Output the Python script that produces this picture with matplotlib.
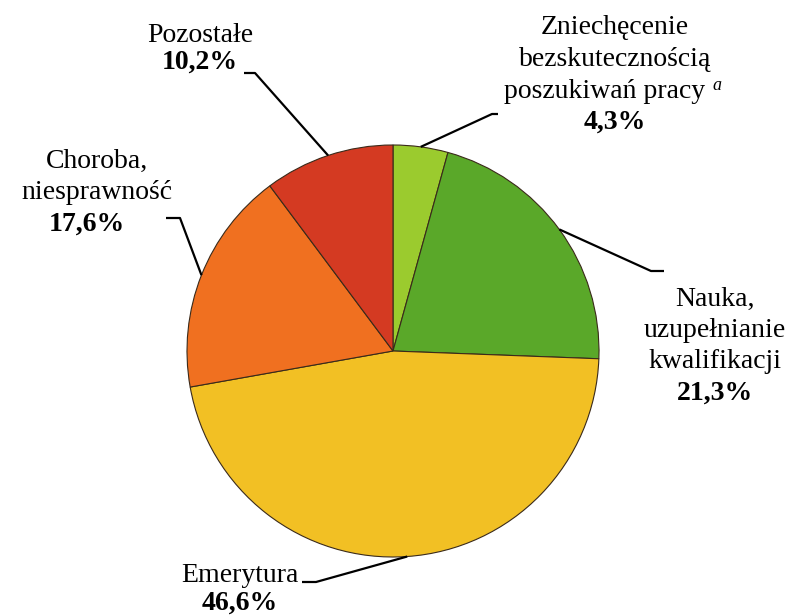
import numpy as np
import matplotlib
matplotlib.use("Agg")
import matplotlib.pyplot as plt

categories = ["Zniechęcenie\nbezskutecznością\nposzukiwań pracy", "Nauka,\nuzupełnianie\nkwalifikacji",
              "Emerytura", "Choroba,\nniesprawność", "Pozostałe"]
values = [4.3, 21.3, 46.6, 17.6, 10.2]
colors = ["#9BCB2E", "#5AA829", "#F2C024", "#F07020", "#D43A22"]

# layout (pixel coordinates, y measured from top)
W, H = 787, 616
cx, cy, R = 393, 351, 206
layout = [
    dict(tx=615, ty=28, elbow=(492, 114), end=498),
    dict(tx=715, ty=299, elbow=(651, 271), end=664),
    dict(tx=240, ty=576, elbow=(316, 582), end=302),
    dict(tx=97, ty=161, elbow=(180, 218), end=166),
    dict(tx=200, ty=35, elbow=(255, 73), end=244),
]

plt.rcParams['font.family'] = ['Liberation Serif', 'DejaVu Serif']
fig = plt.figure(figsize=(W / 100, H / 100), dpi=100)
ax = fig.add_axes([0, 0, 1, 1])

def fy(y):
    return H - y

wedges, _ = ax.pie(values, colors=colors, startangle=90, counterclock=False,
                   center=(cx, fy(cy)), radius=R, frame=True,
                   wedgeprops=dict(edgecolor="#3a2a1a", linewidth=0.8))
ax.set_xlim(0, W)
ax.set_ylim(0, H)
ax.set_aspect('equal')
ax.axis('off')

fs = 20
lh = 31.5
for w, cat, val, L in zip(wedges, categories, values, layout):
    mid = np.deg2rad((w.theta1 + w.theta2) / 2)
    ex = cx + R * np.cos(mid)
    ey = cy - R * np.sin(mid)
    bx, by = L['elbow']
    ax.plot([ex, bx, L['end']], [fy(ey), fy(by), fy(by)], color='black', lw=1.6,
            solid_capstyle='butt', zorder=5)
    lines = cat.split("\n")
    for i, line in enumerate(lines):
        y = L['ty'] + i * lh
        if line == "poszukiwań pracy":
            ax.text(L['tx'] - 10, fy(y), line, fontsize=fs, ha='center', va='center')
            ax.text(L['tx'] + 97, fy(y - 6), "a", fontsize=13, style='italic', ha='left', va='center')
        else:
            ax.text(L['tx'], fy(y), line, fontsize=fs, ha='center', va='center')
    py = L['ty'] + len(lines) * lh - (4 if len(lines) == 1 else 0)
    px = L['tx'] - 10 if cat.startswith("Choroba") else L['tx']
    ax.text(px, fy(py), f"{val:.1f}%".replace('.', ','), fontsize=fs, fontweight='bold',
            ha='center', va='center')

fig.savefig("out.png", dpi=100)
